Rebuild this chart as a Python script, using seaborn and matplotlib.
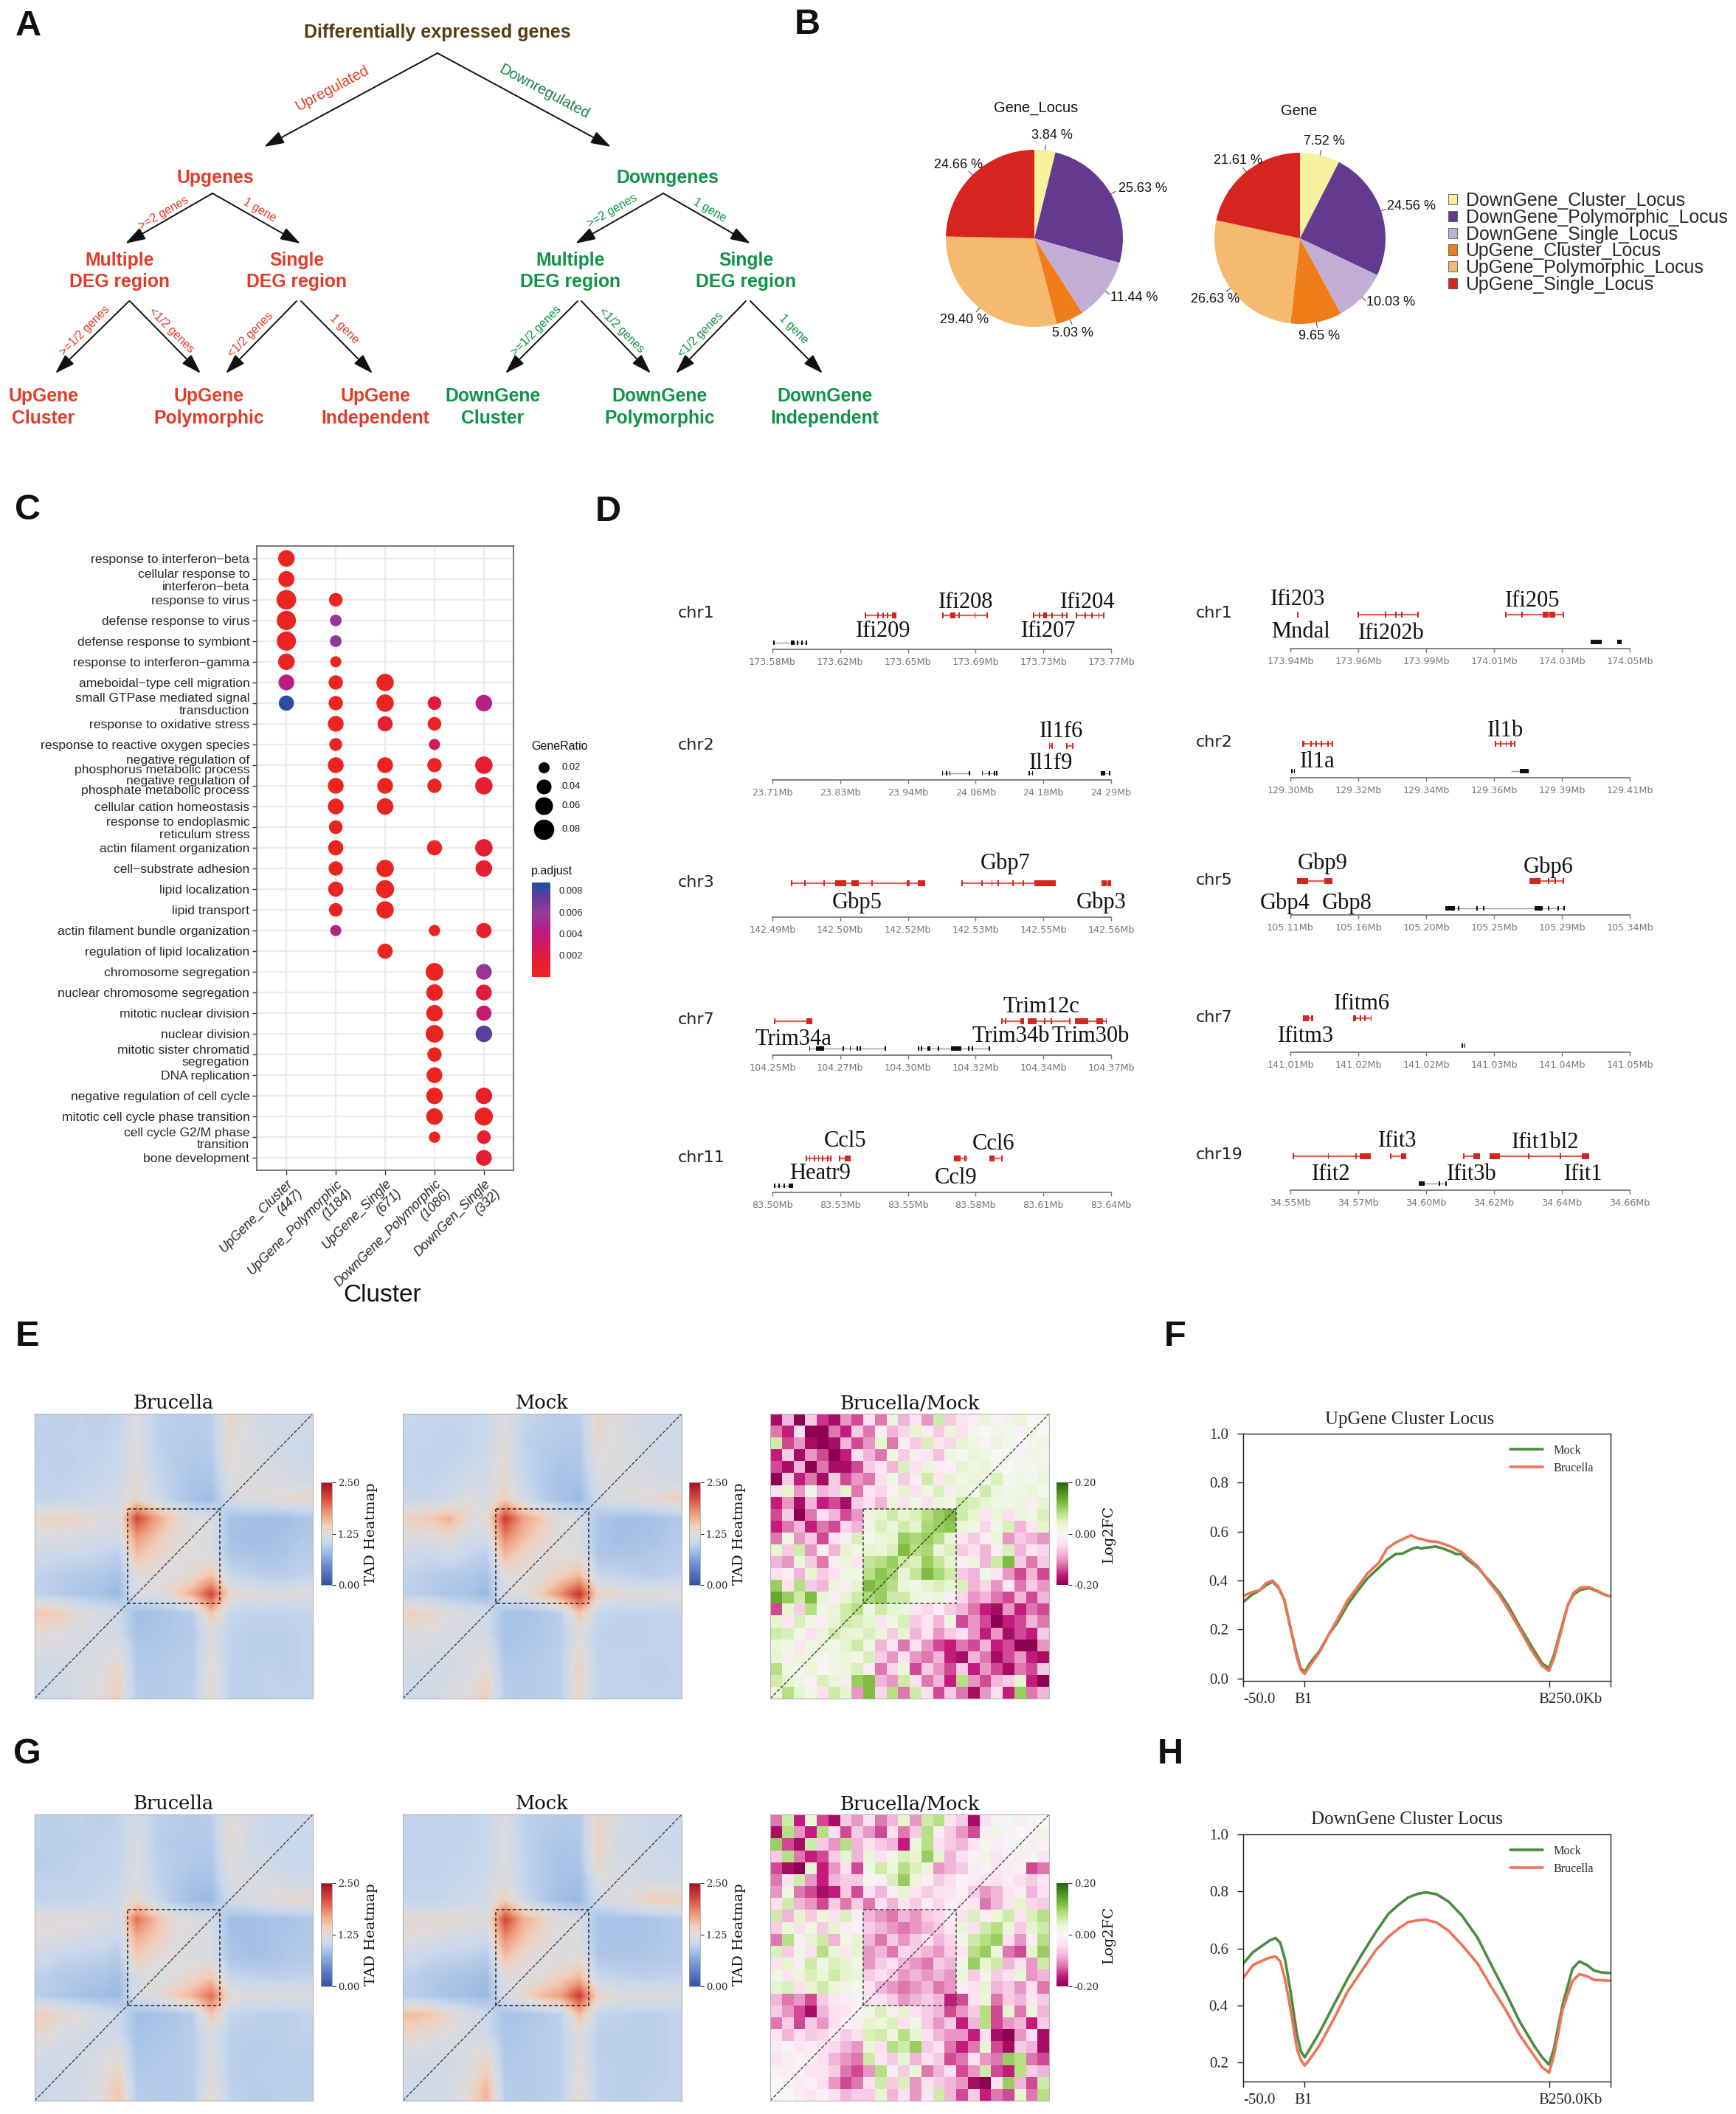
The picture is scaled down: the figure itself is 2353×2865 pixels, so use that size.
import numpy as np
import pandas as pd
import matplotlib
matplotlib.use("Agg")
import matplotlib.pyplot as plt
import seaborn as sns
from matplotlib.colors import LinearSegmentedColormap, Normalize
from matplotlib.cm import ScalarMappable
from matplotlib.transforms import ScaledTranslation

sns.set_style("ticks")
plt.rcParams["font.family"] = ["Liberation Sans", "DejaVu Sans"]
SANS, TIMES, DSERIF, DSANS = "Liberation Sans", "Liberation Serif", "DejaVu Serif", "DejaVu Sans"

W, H = 2353, 2865
fig = plt.figure(figsize=(W / 100, H / 100), dpi=100, facecolor="white")


def box(x0, y0, x1, y1, **kw):
    return fig.add_axes([x0 / W, 1 - y1 / H, (x1 - x0) / W, (y1 - y0) / H], **kw)


# ---------------------------------------------------------------- panel B data
pie_names = ["DownGene_Cluster_Locus", "DownGene_Polymorphic_Locus", "DownGene_Single_Locus",
             "UpGene_Cluster_Locus", "UpGene_Polymorphic_Locus", "UpGene_Single_Locus"]
pie_colors = ["#f6f19c", "#633a8f", "#c2aed4", "#ef7d1a", "#f5b96f", "#d6241f"]
pie_locus = [3.84, 25.63, 11.44, 5.03, 29.40, 24.66]
pie_gene = [7.52, 24.56, 10.03, 9.65, 26.63, 21.61]

# ---------------------------------------------------------------- panel C data
go_terms = ["response to interferon\u2212beta", "cellular response to\ninterferon\u2212beta", "response to virus",
            "defense response to virus", "defense response to symbiont", "response to interferon\u2212gamma",
            "ameboidal\u2212type cell migration", "small GTPase mediated signal\ntransduction",
            "response to oxidative stress", "response to reactive oxygen species",
            "negative regulation of\nphosphorus metabolic process", "negative regulation of\nphosphate metabolic process",
            "cellular cation homeostasis", "response to endoplasmic\nreticulum stress", "actin filament organization",
            "cell\u2212substrate adhesion", "lipid localization", "lipid transport", "actin filament bundle organization",
            "regulation of lipid localization", "chromosome segregation", "nuclear chromosome segregation",
            "mitotic nuclear division", "nuclear division", "mitotic sister chromatid\nsegregation", "DNA replication",
            "negative regulation of cell cycle", "mitotic cell cycle phase transition", "cell cycle G2/M phase\ntransition",
            "bone development"]
go_clusters = ["UpGene_Cluster\n(447)", "UpGene_Polymorphic\n(1184)", "UpGene_Single\n(671)",
               "DownGene_Polymorphic\n(1086)", "DownGen_Single\n(332)"]
n = np.nan
go_ratio = [[.051, n, n, n, n], [.048, n, n, n, n], [.074, .033, n, n, n], [.071, .023, n, n, n], [.071, .023, n, n, n],
            [.051, .018, n, n, n], [.046, .037, .057, n, n], [.042, .037, .057, .033, .051], [n, .046, .042, .033, n],
            [n, .029, n, .018, n], [n, .046, .046, .037, .057], [n, .046, .046, .037, .057], [n, .046, .051, n, n],
            [n, .033, n, n, n], [n, .042, n, .042, .057], [n, .037, .057, n, .051], [n, .042, .062, n, n],
            [n, .033, .057, n, n], [n, .009, n, .021, .042], [n, n, .042, n, n], [n, n, n, .059, .046],
            [n, n, n, .051, .046], [n, n, n, .051, .042], [n, n, n, .059, .051], [n, n, n, .037, n], [n, n, n, .046, n],
            [n, n, n, .051, .051], [n, n, n, .051, .062], [n, n, n, .021, .033], [n, n, n, n, .046]]
r = .0002
go_padj = [[r, n, n, n, n], [r, n, n, n, n], [r, r, n, n, n], [r, .0058, n, n, n], [r, .0062, n, n, n],
           [r, r, n, n, n], [.0042, r, r, n, n], [.0085, r, r, .0018, .0045], [n, r, .0010, .0006, n],
           [n, r, n, .0028, n], [n, r, r, r, .0012], [n, r, r, r, .0012], [n, r, r, n, n],
           [n, r, n, n, n], [n, r, n, r, .0012], [n, r, r, n, .0010], [n, r, r, n, n],
           [n, .0008, r, n, n], [n, .0045, n, r, .0009], [n, n, r, n, n], [n, n, n, r, .0058],
           [n, n, n, r, .0018], [n, n, n, r, .0036], [n, n, n, r, .0075], [n, n, n, r, n], [n, n, n, r, n],
           [n, n, n, r, .0008], [n, n, n, r, r], [n, n, n, r, .0010], [n, n, n, n, .0012]]
size_keys = [0.02, 0.04, 0.06, 0.08]
padj_ticks = [0.002, 0.004, 0.006, 0.008]

# ---------------------------------------------------------------- panel D data (x in tick intervals, 0..5)
# genes: (start, end, exons); an exon is a position or a (start, end) pair
track_ticks = [
    ["173.58", "173.62", "173.65", "173.69", "173.73", "173.77"],
    ["173.94", "173.96", "173.99", "174.01", "174.03", "174.05"],
    ["23.71", "23.83", "23.94", "24.06", "24.18", "24.29"],
    ["129.30", "129.32", "129.34", "129.36", "129.39", "129.41"],
    ["142.49", "142.50", "142.52", "142.53", "142.55", "142.56"],
    ["105.11", "105.16", "105.20", "105.25", "105.29", "105.34"],
    ["104.25", "104.27", "104.30", "104.32", "104.34", "104.37"],
    ["141.01", "141.02", "141.02", "141.03", "141.04", "141.05"],
    ["83.50", "83.53", "83.55", "83.58", "83.61", "83.64"],
    ["34.55", "34.57", "34.60", "34.62", "34.64", "34.66"]]
track_chr = ["chr1", "chr1", "chr2", "chr2", "chr3", "chr5", "chr7", "chr7", "chr11", "chr19"]
track_red = [
    [(1.37, 1.83, [1.37, 1.56, 1.63, 1.70, (1.76, 1.83)]), (2.52, 3.18, [2.52, (2.62, 2.70), 2.76, 2.99, 3.17]),
     (3.86, 4.35, [3.86, 3.94, (4.0, 4.05), 4.13, 4.28, 4.35]), (4.49, 4.89, [4.49, 4.62, 4.72, 4.82, 4.89])],
    [(.10, .12, [.11]), (1.0, 1.89, [1.0, 1.40, 1.55, 1.64, 1.88]),
     (3.17, 4.03, [3.17, 3.41, (3.72, 3.80), (3.82, 3.90), 4.02])],
    [(4.09, 4.13, [4.09, 4.13]), (4.35, 4.43, [4.35, 4.43])],
    [(.17, .62, [(.17, .21), .30, .38, .46, .55, .62]), (3.02, 3.30, [3.02, 3.10, 3.18, 3.25, 3.30])],
    [(.28, 2.25, [.28, .48, .76, (.93, 1.09), (1.17, 1.27), 1.47, (1.98, 2.03), (2.15, 2.25)]),
     (2.80, 4.18, [2.80, 3.09, 3.24, 3.33, 3.55, 3.70, (3.87, 4.18)]), (4.86, 5.0, [(4.86, 4.93), (4.95, 5.0)])],
    [(.10, .62, [(.10, .26), (.50, .62)]), (3.52, 4.03, [(3.52, 3.68), 3.80, 3.90, 4.02])],
    [(.03, .59, [.03, (.50, .59)]), (3.39, 3.71, [3.39, 3.44, (3.66, 3.71)]),
     (3.77, 4.39, [(3.77, 3.90), 4.02, 4.12, 4.39]), (4.47, 4.93, [(4.47, 4.66), (4.78, 4.88), 4.93])],
    [(.19, .34, [(.19, .27), (.30, .34)]), (.92, 1.19, [(.92, .97), 1.03, 1.10, 1.19])],
    [(.50, .86, [.50, .55, .62, .68, .74, .82, .86]), (.99, 1.16, [.99, (1.07, 1.16)]),
     (2.68, 2.87, [(2.68, 2.78), 2.84, 2.87]), (3.20, 3.39, [(3.20, 3.28), 3.39])],
    [(.04, 1.18, [.04, .56, .97, (1.02, 1.18)]), (1.48, 1.71, [1.48, (1.63, 1.71)]), (2.55, 2.79, [2.55, (2.70, 2.79)]),
     (2.94, 4.40, [(2.94, 3.09), 3.51, 3.98, (4.29, 4.40)])]]
track_black = [
    [(0, .51, [.02, (.27, .33), .37, .44, .5])],
    [(4.42, 4.59, [(4.42, 4.59)]), (4.81, 4.88, [(4.81, 4.88)])],
    [(2.51, 2.92, [2.51, 2.57, 2.62, 2.91]), (3.10, 3.32, [3.10, 3.20, 3.28, 3.31]), (3.79, 3.84, [3.79, 3.84]),
     (4.85, 4.98, [(4.85, 4.91), 4.98])],
    [(.02, .06, [.02, .06]), (3.25, 3.51, [(3.38, 3.51)])],
    [],
    [(2.28, 4.03, [(2.28, 2.42), 2.48, 2.75, 2.85, (3.60, 3.72), 3.80, 3.95, 4.03])],
    [(.55, 1.67, [.55, (.64, .76), 1.05, 1.15, 1.25, 1.30, 1.67]),
     (2.16, 3.21, [2.16, 2.20, 2.30, 2.32, 2.45, (2.64, 2.79), 2.90, 2.95, 3.20])],
    [(2.53, 2.57, [2.53, 2.57])],
    [(.03, .31, [.03, .1, .17, (.24, .31)])],
    [(1.89, 2.29, [(1.89, 1.98), 2.2, 2.29])]]
track_names = [
    [("Ifi208", 2.86, 64), ("Ifi204", 4.65, 64), ("Ifi209", 1.63, 24), ("Ifi207", 4.08, 24)],
    [("Ifi203", .11, 67), ("Mndal", .15, 23), ("Ifi202b", 1.49, 21), ("Ifi205", 3.57, 64)],
    [("Il1f6", 4.26, 65), ("Il1f9", 4.11, 22)],
    [("Il1a", .40, 22), ("Il1b", 3.17, 63)],
    [("Gbp7", 3.44, 73), ("Gbp5", 1.25, 20), ("Gbp3", 4.86, 20)],
    [("Gbp9", .48, 70), ("Gbp6", 3.80, 65), ("Gbp4", -.08, 16), ("Gbp8", .83, 16)],
    [("Trim12c", 3.97, 65), ("Trim34a", .31, 22), ("Trim34b", 3.52, 25), ("Trim30b", 4.70, 25)],
    [("Ifitm6", 1.05, 65), ("Ifitm3", .23, 21)],
    [("Ccl5", 1.07, 69), ("Ccl6", 3.26, 66), ("Heatr9", .70, 25), ("Ccl9", 2.71, 19)],
    [("Ifit3", 1.58, 67), ("Ifit1bl2", 3.76, 65), ("Ifit2", .60, 22), ("Ifit3b", 2.67, 22), ("Ifit1", 4.32, 22)]]

# ---------------------------------------------------------------- panels E/G data
tad_e_brucella = [
    [1.00, .98, 1.00, .98, 1.02, 1.22, 1.00, .96, .95, .96, 1.35, 1.20, 1.12, 1.10, 1.12],
    [.98, 1.00, 1.00, 1.00, 1.05, 1.25, 1.00, .95, .92, .95, 1.30, 1.20, 1.15, 1.10, 1.08],
    [1.00, .98, 1.00, 1.02, 1.05, 1.25, 1.02, .95, .90, .92, 1.28, 1.22, 1.18, 1.12, 1.08],
    [1.00, 1.00, 1.02, 1.04, 1.08, 1.28, 1.05, .95, .88, .88, 1.22, 1.25, 1.20, 1.18, 1.12],
    [1.02, 1.02, 1.05, 1.08, 1.15, 1.35, 1.12, .95, .85, .80, 1.15, 1.20, 1.25, 1.30, 1.35],
    [1.35, 1.40, 1.32, 1.25, 1.20, 2.15, 1.72, 1.40, 1.25, 1.20, .85, .85, .82, .82, .88],
    [1.20, 1.20, 1.18, 1.15, 1.12, 1.75, 1.50, 1.30, 1.25, 1.20, .85, .82, .82, .85, .90],
    [1.08, 1.05, 1.05, 1.02, .95, 1.50, 1.35, 1.25, 1.25, 1.22, .90, .88, .85, .90, .95],
    [1.00, .95, .92, .90, .85, 1.25, 1.25, 1.25, 1.30, 1.50, 1.05, 1.00, .95, .95, 1.00],
    [.98, .92, .88, .85, .78, 1.20, 1.22, 1.35, 1.65, 2.15, 1.35, 1.25, 1.22, 1.22, 1.25],
    [1.48, 1.40, 1.28, 1.18, 1.10, .82, .85, .90, .95, 1.50, 1.05, 1.00, 1.00, 1.00, 1.02],
    [1.30, 1.25, 1.18, 1.15, 1.10, .85, .88, .90, .92, 1.20, 1.00, .98, .98, .98, 1.00],
    [1.18, 1.18, 1.15, 1.20, 1.25, .90, .90, .92, .95, 1.25, 1.00, .98, .98, .98, 1.00],
    [1.12, 1.12, 1.18, 1.22, 1.35, .92, .92, .95, .95, 1.30, 1.00, .98, 1.00, .98, 1.00],
    [1.10, 1.12, 1.18, 1.25, 1.40, .95, .92, .95, .98, 1.30, 1.00, .98, 1.00, 1.00, 1.00]]
tad_e_mock = [
    [1.05, 1.02, 1.02, 1.02, 1.08, 1.25, 1.02, .98, .95, .95, 1.35, 1.25, 1.15, 1.10, 1.10],
    [1.02, 1.02, 1.00, 1.02, 1.08, 1.28, 1.00, .95, .92, .92, 1.30, 1.22, 1.18, 1.12, 1.10],
    [1.02, 1.00, 1.02, 1.05, 1.10, 1.30, 1.02, .95, .88, .90, 1.25, 1.22, 1.18, 1.12, 1.10],
    [1.02, 1.02, 1.05, 1.10, 1.12, 1.30, 1.05, .92, .85, .85, 1.20, 1.22, 1.20, 1.18, 1.15],
    [1.05, 1.05, 1.12, 1.25, 1.18, 1.42, 1.12, .95, .85, .78, 1.12, 1.20, 1.25, 1.30, 1.40],
    [1.40, 1.48, 1.60, 1.30, 1.25, 2.20, 1.70, 1.45, 1.25, 1.20, .88, .85, .82, .85, .90],
    [1.25, 1.22, 1.30, 1.15, 1.12, 1.85, 1.55, 1.35, 1.25, 1.20, .88, .82, .85, .85, .92],
    [1.08, 1.05, 1.12, 1.02, .95, 1.55, 1.35, 1.25, 1.25, 1.25, .90, .88, .88, .92, .95],
    [1.00, .95, .92, .90, .85, 1.25, 1.25, 1.28, 1.40, 1.55, 1.05, 1.02, .98, .95, 1.00],
    [.98, .92, .88, .85, .78, 1.20, 1.25, 1.45, 1.80, 2.25, 1.40, 1.28, 1.25, 1.25, 1.28],
    [1.40, 1.35, 1.25, 1.18, 1.12, .85, .85, .90, .98, 1.50, 1.05, 1.00, 1.00, 1.00, 1.02],
    [1.25, 1.22, 1.18, 1.15, 1.10, .85, .88, .90, .95, 1.22, 1.00, .98, .98, 1.00, 1.00],
    [1.18, 1.15, 1.15, 1.20, 1.22, .88, .90, .92, .98, 1.30, 1.00, 1.00, 1.00, 1.00, 1.00],
    [1.12, 1.12, 1.15, 1.20, 1.28, .92, .92, .95, .98, 1.40, 1.02, 1.00, 1.00, .98, 1.00],
    [1.10, 1.12, 1.18, 1.25, 1.40, .95, .92, .95, .98, 1.35, 1.02, 1.00, 1.00, 1.00, 1.00]]
tad_g_brucella = [
    [.98, .98, 1.00, .98, 1.00, 1.15, .98, .95, .92, .95, 1.32, 1.15, 1.08, 1.05, 1.10],
    [.98, .98, .98, 1.00, 1.02, 1.20, .98, .92, .92, .92, 1.28, 1.12, 1.08, 1.05, 1.05],
    [.95, .98, 1.00, 1.00, 1.02, 1.20, 1.00, .95, .90, .90, 1.25, 1.15, 1.12, 1.05, 1.05],
    [1.00, 1.00, 1.00, 1.02, 1.05, 1.22, 1.02, .92, .85, .85, 1.20, 1.20, 1.18, 1.12, 1.10],
    [1.00, 1.02, 1.02, 1.05, 1.10, 1.32, 1.08, .92, .82, .78, 1.10, 1.18, 1.25, 1.32, 1.32],
    [1.30, 1.28, 1.28, 1.22, 1.15, 1.95, 1.55, 1.30, 1.22, 1.18, .82, .82, .85, .85, .90],
    [1.22, 1.20, 1.15, 1.12, 1.05, 1.62, 1.45, 1.25, 1.22, 1.18, .85, .82, .85, .88, .90],
    [1.08, 1.02, 1.00, .98, .92, 1.45, 1.28, 1.22, 1.22, 1.22, .88, .85, .85, .90, .92],
    [.98, .92, .90, .88, .82, 1.20, 1.22, 1.25, 1.32, 1.45, 1.05, 1.00, .98, .98, 1.00],
    [.95, .90, .85, .82, .78, 1.18, 1.22, 1.42, 1.60, 1.95, 1.30, 1.22, 1.20, 1.20, 1.22],
    [1.42, 1.32, 1.25, 1.15, 1.08, .82, .85, .88, .95, 1.50, 1.02, 1.00, .98, .98, 1.00],
    [1.32, 1.20, 1.15, 1.10, 1.08, .85, .88, .90, .95, 1.18, .98, .96, .96, .98, 1.00],
    [1.15, 1.12, 1.12, 1.18, 1.25, .88, .90, .92, .95, 1.22, .98, .95, .95, .98, .98],
    [1.10, 1.10, 1.15, 1.20, 1.35, .90, .92, .92, .95, 1.22, .98, .95, .98, .95, .98],
    [1.08, 1.10, 1.15, 1.25, 1.50, .95, .92, .92, .95, 1.30, 1.00, .95, .95, .98, .98]]
tad_g_mock = [
    [1.00, 1.00, 1.02, 1.00, 1.05, 1.20, 1.00, .95, .92, .92, 1.38, 1.18, 1.10, 1.08, 1.08],
    [1.00, 1.00, 1.00, 1.02, 1.05, 1.22, 1.00, .92, .88, .90, 1.38, 1.15, 1.12, 1.08, 1.08],
    [1.00, 1.00, 1.02, 1.02, 1.08, 1.22, 1.02, .92, .85, .88, 1.35, 1.18, 1.15, 1.10, 1.08],
    [1.02, 1.02, 1.02, 1.05, 1.10, 1.25, 1.02, .92, .85, .82, 1.22, 1.20, 1.18, 1.15, 1.15],
    [1.02, 1.02, 1.05, 1.08, 1.15, 1.42, 1.08, .92, .82, .78, 1.12, 1.20, 1.32, 1.42, 1.42],
    [1.32, 1.30, 1.32, 1.28, 1.18, 2.15, 1.62, 1.42, 1.25, 1.20, .85, .85, .85, .88, .92],
    [1.25, 1.20, 1.15, 1.12, 1.08, 1.80, 1.50, 1.30, 1.22, 1.20, .88, .85, .85, .88, .92],
    [1.08, 1.02, 1.00, .98, .92, 1.52, 1.30, 1.22, 1.22, 1.28, .90, .88, .88, .90, .92],
    [.98, .92, .88, .85, .82, 1.25, 1.22, 1.28, 1.40, 1.55, 1.05, 1.00, .98, .98, 1.00],
    [.95, .90, .85, .82, .78, 1.18, 1.30, 1.55, 1.70, 2.20, 1.38, 1.25, 1.22, 1.20, 1.22],
    [1.55, 1.48, 1.32, 1.18, 1.08, .85, .88, .92, 1.00, 1.55, 1.02, 1.00, .98, .98, 1.00],
    [1.35, 1.30, 1.22, 1.15, 1.08, .88, .90, .95, .98, 1.22, .98, .98, .98, .98, 1.00],
    [1.18, 1.15, 1.15, 1.22, 1.30, .90, .92, .95, .98, 1.25, .98, .98, .98, .98, 1.00],
    [1.12, 1.10, 1.15, 1.22, 1.45, .92, .92, .95, .98, 1.28, 1.00, .98, .98, .98, 1.00],
    [1.10, 1.12, 1.15, 1.28, 1.60, .95, .92, .95, .98, 1.30, 1.00, .98, .98, 1.00, 1.00]]
fc_e = [
    [-18, -8, -20, -6, -15, -18, -10, -14, -4, -12, 3, -8, -3, -10, 6, -6, -3, -2, 3, -1, 2, 3, 0, 1],
    [-12, -16, -4, -20, -20, -12, -16, -6, -12, -2, -8, -5, 4, -2, -6, 3, -4, 1, 0, 2, 1, -1, 2, 0],
    [6, -14, -10, -18, -20, -18, -8, -14, -10, 4, -12, -2, -6, 5, -3, -5, 4, 2, -1, 3, 1, 0, 1, 2],
    [-16, -6, -18, -10, -14, -20, -16, -4, -8, -12, 2, -6, -2, -3, -7, 2, 1, 3, 2, 0, 1, -1, 2, 1],
    [-14, -18, -8, -20, -12, -18, -18, -14, -6, -3, -8, 5, -4, 3, -2, -1, 4, 2, 3, 1, 0, 1, 1, 2],
    [-20, -6, -16, -12, -18, -6, -14, -10, -12, -4, 2, -6, -2, 6, -3, 4, 2, 3, 2, 5, 1, 2, 1, 3],
    [-4, 4, -10, 2, -8, -6, 4, -12, -3, -5, -1, 4, -4, 2, 5, -2, 3, 1, 6, 3, 2, 2, 3, 1],
    [-16, -10, -18, -8, -16, -14, -18, -6, -4, -8, 3, -3, 2, -4, 3, 2, 6, 5, 4, 2, 2, 3, -2, 4],
    [-14, -6, -20, -12, -4, -8, -14, -10, 3, 4, 6, 4, 5, 8, 10, 12, 6, 4, -3, 3, -4, 3, 2, 5],
    [-16, -12, -8, -16, -12, -14, -5, -8, 2, 5, 3, 6, 4, 9, 10, 11, 3, 2, -5, 2, 5, -8, -3, 4],
    [-12, 2, -10, -6, -14, -4, -2, 5, 1, 3, 4, 10, 9, 10, 8, 3, -3, -6, -2, 3, -10, -6, -8, -10],
    [4, -6, 6, -10, -2, -8, 4, 2, 4, 3, 5, 12, 8, 9, 3, 5, -6, -4, -8, -2, 5, -8, -3, -5],
    [-8, -10, 3, -6, -12, -2, 3, -3, 7, 8, 10, 6, 5, 10, 7, 4, -2, 3, -8, 6, 12, -6, -12, -6],
    [-4, -2, -8, 4, -6, -4, 2, 2, 8, 11, 9, 4, 7, 12, 9, 6, -6, -8, 2, -3, -10, -14, -8, -14],
    [10, -4, 8, -6, -8, 3, -2, 4, 12, 10, 8, 3, 2, 4, 5, 4, 5, -8, -5, -10, -3, -12, -6, -10],
    [14, 10, 6, 12, 3, -2, 4, 6, 9, 10, 6, 6, 3, 2, 3, -2, -5, -10, -8, -12, -14, -8, -14, -8],
    [-14, 4, -6, 8, 2, 3, 6, 8, 3, 6, 4, 3, -3, -5, -2, -6, -8, -12, -16, -18, -10, -16, -12, -14],
    [4, -3, 5, 2, -2, 4, 6, 5, 4, -3, 2, 5, -6, -3, -8, 2, -14, -10, -14, -20, -16, -14, -8, -12],
    [6, 5, 2, -4, 3, 6, 4, 3, 5, 3, -6, 4, -8, -3, -10, -6, -4, -10, -16, -10, -18, -14, -16, -6],
    [3, 2, -3, 2, 3, 1, 4, 6, 2, -8, -3, -12, -4, -10, -14, -16, -12, -14, -8, -16, -14, -20, -20, -10],
    [4, -2, 3, 2, 1, 2, 3, 2, 5, -6, -10, -4, -10, -12, -8, -16, -18, -8, -12, -18, -14, -10, -16, -18],
    [8, 2, 1, 3, -1, 2, 3, 5, -2, -12, -5, 3, -14, -6, -10, -14, -6, -16, -10, -14, -18, -12, -14, -6],
    [6, 4, 2, -1, 5, 3, -2, 10, 12, -8, -10, 6, -4, -12, -8, -16, 8, -10, -14, -8, -6, 4, -16, -20],
    [3, 8, 4, 2, -4, 6, 4, -10, 12, -5, 8, -12, 6, -4, -14, -6, -12, -18, -10, -4, -16, 10, -12, -8]]
fc_g = [
    [-12, 6, -16, 3, -14, -18, -6, -10, -4, -12, -8, 4, -10, 6, 8, -3, -6, -18, -4, -1, 1, -2, 1, 0],
    [-18, 8, -10, -16, 8, -4, -14, -6, -10, -14, -4, -12, -6, 8, -2, -6, -10, -14, -2, 2, -1, 0, -1, 2],
    [10, -14, -18, 6, -6, -10, 8, -8, -4, -6, -8, -16, 3, 8, -4, -6, -8, -3, 1, -2, -1, 1, -2, -1],
    [-6, 8, -12, -16, -14, -6, 4, -8, 3, -4, 2, 5, 4, 10, 4, -8, -4, -1, 2, -3, -1, -2, 1, -3],
    [-14, -18, -20, 4, -16, -10, -4, -14, 2, 6, 3, 8, 5, 3, -10, -8, -6, -2, -1, -3, -2, -1, -14, -12],
    [-12, -4, 6, -10, -16, -8, -6, -6, 1, -2, 5, 10, 3, -2, -6, -4, -1, -2, -3, -4, -2, -4, -6, -3],
    [-10, 2, -12, -14, -18, -16, -6, -14, -4, -8, -2, 4, -3, -6, -4, -3, -1, -6, -10, -8, -3, -2, -8, -4],
    [-4, 6, -8, -10, -14, -6, -12, -6, -12, -4, -8, -3, -6, -2, -5, -2, -2, -3, -12, -8, -3, 4, -5, -6],
    [6, -8, 4, -6, 3, -4, 5, -2, -8, -10, -12, -8, -10, -6, -5, -2, -4, 5, -2, 3, 6, -3, 5, 8],
    [-6, 3, -4, 2, -6, 4, -2, -1, -6, -8, -10, -12, -10, -8, -6, -3, 3, -4, 6, 8, 3, -6, 4, 6],
    [-12, 8, -2, 4, 6, -8, 2, 4, -8, -12, -6, -10, -6, -4, -8, -5, 2, 6, 8, 10, -4, -10, -2, 8],
    [5, -6, 2, -4, 8, 3, -3, 4, -10, -8, -12, -5, -6, -8, -10, -6, -3, 8, 10, 3, -12, -14, 4, 10],
    [-4, 4, -2, 6, 2, 5, 4, 2, -10, -6, -4, -8, -10, -12, -6, -8, 2, 10, 4, 6, -8, -4, -10, 6],
    [2, -3, 3, 5, 3, 6, 4, 3, -6, -4, -6, -10, -8, -10, -8, -10, 3, -6, 2, -6, -4, 3, -10, -8],
    [4, 5, -4, 4, 6, 3, 2, 1, -4, -8, -10, -12, -10, -8, -12, -10, -2, -4, 4, -8, -6, -10, -4, -12],
    [-8, -12, -10, -14, -6, -3, -2, -1, -3, -4, -6, -10, -8, -6, -8, -16, -14, -4, 3, -12, -6, -8, -3, -6],
    [-6, -10, -14, -18, -8, -4, -3, -1, 2, 5, -2, 4, -4, -6, -8, -14, -10, -6, 8, -14, 4, -12, 3, -8],
    [-12, -6, -14, -6, -10, -4, -1, -2, 4, 3, 5, -4, 2, -6, -10, -6, -16, -8, 8, -14, -10, -8, -16, -6],
    [-3, -8, -4, -6, -5, -2, -6, -4, 5, 6, 3, 8, 4, -4, -8, -10, -10, -16, -4, -18, -20, -10, -4, -18],
    [-2, -1, -3, -2, -4, -5, -8, -10, 3, -4, 8, 6, 10, -6, -4, -12, -16, -12, 4, -14, -18, -6, -8, -18],
    [-3, -2, -1, -2, -4, -8, -10, -12, 6, -3, -6, 4, -8, -4, -6, -14, -12, -4, -10, -12, 10, 8, -12, -14],
    [-1, -2, -1, -3, -3, -6, -12, -14, -10, 8, -2, -6, 3, -12, -8, -4, -14, -10, 6, -14, -16, 8, -6, -8],
    [0, -1, -2, -1, -4, -10, -14, -12, -4, 6, -6, 5, -10, -4, -6, -8, -10, -18, -20, -4, 10, -8, -14, 6],
    [-1, 0, -2, -3, -1, -4, -8, -6, -6, 4, -8, -4, -10, -3, 6, -8, -14, -6, -16, -12, -14, 4, -12, 8]]

# ---------------------------------------------------------------- panels F/H data (x in kb from B1)
f_kb = [-63, -54, -46, -40, -33, -27, -21, -14, -8, -4, 0, 6, 15, 25, 34, 44, 54, 64, 76, 84, 93, 100, 109, 115, 119,
        128, 134, 142, 151, 155, 160, 165, 177, 188, 199, 209, 220, 232, 243, 250, 255, 262, 269, 275, 282, 291, 300,
        307, 313]
f_mock = [.312, .342, .36, .38, .395, .372, .322, .197, .096, .041, .026, .066, .111, .182, .232, .302, .357, .408,
          .453, .483, .508, .51, .528, .536, .531, .536, .539, .53, .516, .508, .508, .49, .453, .403, .352, .292, .212,
          .132, .061, .041, .096, .197, .297, .342, .362, .369, .355, .342, .335]
f_brucella = [.337, .352, .36, .388, .40, .375, .322, .197, .086, .034, .019, .056, .106, .182, .245, .32, .373, .428,
              .473, .53, .555, .568, .585, .573, .57, .56, .559, .55, .536, .527, .518, .50, .458, .398, .342, .277,
              .202, .116, .051, .031, .081, .187, .297, .349, .371, .373, .357, .342, .335]
h_kb = [-63, -53, -43, -36, -30, -25, -20, -14, -8, -4, 0, 6, 15, 30, 44, 58, 73, 86, 96, 106, 116, 124, 135, 147, 161,
        177, 191, 206, 220, 235, 243, 250, 255, 264, 274, 281, 289, 296, 304, 313]
h_mock = [.547, .587, .611, .628, .637, .62, .559, .439, .30, .24, .219, .253, .305, .404, .495, .577, .659, .723, .753,
          .779, .792, .797, .79, .765, .715, .637, .542, .443, .344, .258, .219, .193, .249, .404, .529, .555, .542,
          .523, .516, .514]
h_brucella = [.497, .542, .558, .568, .572, .555, .49, .378, .249, .21, .19, .216, .26, .355, .45, .52, .595, .642, .67,
              .693, .699, .701, .691, .663, .612, .547, .465, .383, .297, .223, .184, .165, .223, .387, .486, .51, .503,
              .49, .489, .487]
kb_ticks = [-63, 0, 250, 313]
kb_labels = ["-50.0", "B1", "B250.0Kb", ""]

RED, GREEN = "#e33b28", "#0f9447"

# ======================================================= panel B
for values, (cx, cy, rad) in [(pie_locus, (1402, 323, 120)), (pie_gene, (1762, 323, 116))]:
    ax = box(cx - rad, cy - rad, cx + rad, cy + rad)
    wedges, _ = ax.pie(values, colors=pie_colors, startangle=90, counterclock=False, wedgeprops={"linewidth": 0})
    ax.set_xlim(-1, 1)
    ax.set_ylim(-1, 1)
    for w in wedges:
        a = np.deg2rad((w.theta1 + w.theta2) / 2)
        ax.plot([np.cos(a), 1.06 * np.cos(a)], [np.sin(a), 1.06 * np.sin(a)], color="#333333", lw=0.7, clip_on=False)
fig.legend(wedges, pie_names, loc="upper left", bbox_to_anchor=(1963 / W, 1 - 260 / H), frameon=False, fontsize=17.9,
           labelspacing=-0.05, handlelength=0.5, handleheight=0.5, handletextpad=0.45, borderpad=0, borderaxespad=0)
for leg in fig.legends:
    for h in leg.get_patches():
        h.set_edgecolor("#555555")
        h.set_linewidth(0.6)

# ======================================================= panel C
ratio_arr, padj_arr = np.array(go_ratio), np.array(go_padj)
rows, cols = np.where(~np.isnan(ratio_arr))
dots = pd.DataFrame({"row": rows, "col": cols, "ratio": ratio_arr[rows, cols], "padj": padj_arr[rows, cols]})
padj_cmap = LinearSegmentedColormap.from_list("padj", [(0, "#ea2420"), (.0002 / .00875, "#ea2420"),
                                                       (.002 / .00875, "#e11a40"), (.004 / .00875, "#c0187e"),
                                                       (.006 / .00875, "#943a98"), (.0072 / .00875, "#6a3a9c"),
                                                       (1, "#1f4fa3")])
padj_norm = Normalize(0, 0.00875)
DOT_MIN, DOT_MAX = 117, 392
axc = box(348, 740, 696, 1586)
axc.grid(True, color="#ebebeb", lw=1.6)
axc.set_axisbelow(True)
sns.scatterplot(data=dots, x="col", y="row", size="ratio", sizes=(DOT_MIN, DOT_MAX), size_norm=(0.02, 0.08), hue="padj",
                hue_norm=padj_norm, palette=padj_cmap, linewidth=0, legend=False, ax=axc, zorder=3)
axc.set_xlim(-0.6, 4.6)
axc.set_ylim(29.6, -0.6)
axc.set_yticks(range(len(go_terms)), go_terms, fontsize=12.6, linespacing=1.1)
for lab in axc.get_yticklabels():
    if lab.get_text().startswith("negative regulation of\n"):
        lab.set_linespacing(0.82)
axc.set_xticks(range(5), go_clusters, fontsize=12.8, rotation=45, ha="right", rotation_mode="anchor", style="italic",
               linespacing=1.15)
axc.tick_params(axis="both", length=4, width=1, color="#333333", pad=3)
axc.set_xlabel("")
axc.set_ylabel("")
for s in axc.spines.values():
    s.set_color("#555555")
    s.set_linewidth(1.1)

cax = box(721, 1196, 746, 1324)
cb = fig.colorbar(ScalarMappable(padj_norm, padj_cmap), cax=cax)
cb.outline.set_visible(False)
cb.set_ticks(padj_ticks, labels=["0.002", "0.004", "0.006", "0.008"], fontsize=9.3)
cax.tick_params(length=5, color="white", direction="in", pad=8)

# ======================================================= panel D
track_pos = [(1047, 1506, 880), (1749, 2209, 879), (1047, 1506, 1057), (1749, 2209, 1054), (1047, 1506, 1243),
             (1749, 2209, 1240), (1047, 1506, 1430), (1749, 2209, 1426), (1047, 1506, 1616), (1749, 2209, 1613)]
chr_pos = [(919, 831), (1621, 831), (919, 1010), (1621, 1006), (919, 1196), (1621, 1193), (919, 1382), (1621, 1379),
           (919, 1569), (1621, 1565)]


def draw_genes(ax, genes, y, line_c, exon_c, line_w, half):
    for g0, g1, exons in genes:
        ax.hlines(y, g0, g1, color=line_c, lw=line_w, zorder=2)
        for e in exons:
            a, b = e if isinstance(e, tuple) else (e - 0.01, e + 0.01)
            ax.broken_barh([(a, b - a)], (y - half, 2 * half), facecolor=exon_c, edgecolor="none", zorder=3)


for i, (x0, x1, ya) in enumerate(track_pos):
    ax = box(x0, ya - 60, x1, ya)
    ax.patch.set_alpha(0)
    ax.set_xlim(0, 5)
    ax.set_ylim(0, 60)
    draw_genes(ax, track_red[i], 46, "#e2604a", "#d6241f", 1.6, 4)
    draw_genes(ax, track_black[i], 9, "#999999", "#111111", 1.0, 3.2)
    for name, gx, gy in track_names[i]:
        ax.text(gx, gy, name, family=TIMES, fontsize=22, ha="center", va="center", color="#111111", clip_on=False)
    sns.despine(ax=ax, left=True, top=True, right=True)
    ax.spines["bottom"].set_color("#777777")
    ax.spines["bottom"].set_linewidth(1.3)
    ax.set_yticks([])
    ax.set_xticks(range(6), [t + "Mb" for t in track_ticks[i]], family=DSANS, fontsize=9.2, color="#777777")
    ax.tick_params(axis="x", length=3.6, width=1, color="#777777", pad=4)

# ======================================================= panels E, G
tad_cmap = LinearSegmentedColormap.from_list("tad", [(0, "#3a4fa0"), (.2, "#6f8fd0"), (.34, "#a9c3e6"), (.42, "#c9d8ec"),
                                                     (.5, "#dedcdb"), (.58, "#f2cdb8"), (.7, "#ee9a7a"),
                                                     (.85, "#d5493a"), (1, "#a50f25")])
for row, (grids, fc, y0, y1, cy0, cy1) in enumerate([((tad_e_brucella, tad_e_mock), fc_e, 1916, 2302, 2009, 2148),
                                                     ((tad_g_brucella, tad_g_mock), fc_g, 2459, 2847, 2552, 2692)]):
    for name, grid, (x0, x1), (c0, c1), lab_x in zip(["Brucella", "Mock"], grids, [(47, 424), (546, 924)],
                                                     [(435, 450), (934, 949)], [503, 1002]):
        ax = box(x0, y0, x1, y1)
        im = ax.imshow(np.array(grid), cmap=tad_cmap, vmin=0, vmax=2.5, aspect="auto", interpolation="bilinear",
                       extent=(0, 15, 15, 0))
        ax.plot([5, 10, 10, 5, 5], [5, 5, 10, 10, 5], color="#222222", ls="--", lw=1.1, dashes=(3, 2))
        ax.plot([0, 15], [15, 0], color="#333333", ls="--", lw=0.9)
        ax.set_xticks([])
        ax.set_yticks([])
        ax.set_xlim(0, 15)
        ax.set_ylim(15, 0)
        ax.set_title(name, family=DSERIF, fontsize=18.5, pad=5, color="#111111")
        for s in ax.spines.values():
            s.set_color("#b5b5b5")
            s.set_linewidth(0.8)
        ca = box(c0, cy0, c1, cy1)
        cb = fig.colorbar(im, cax=ca)
        cb.set_ticks([0, 1.25, 2.5], labels=["0.00", "1.25", "2.50"], family=DSERIF, fontsize=9.5)
        cb.outline.set_edgecolor("#999999")
        cb.outline.set_linewidth(0.5)
        ca.tick_params(length=3.5, width=0.8, pad=2)
        fig.text(lab_x / W, 1 - (cy0 + cy1) / 2 / H, "TAD Heatmap", family=DSERIF, fontsize=14, rotation=90,
                 ha="center", va="center", color="#111111")
    ax = box(1044, y0, 1422, y1)
    ca = box(1432, cy0, 1448, cy1)
    sns.heatmap(np.array(fc) / 100, cmap="PiYG", vmin=-0.2, vmax=0.2, ax=ax, cbar_ax=ca, xticklabels=False,
                yticklabels=False, cbar_kws={"ticks": [-0.2, 0, 0.2]})
    ax.plot([8, 16, 16, 8, 8], [8, 8, 16, 16, 8], color="#444444", ls="--", lw=1.1, dashes=(3, 2))
    ax.plot([0, 24], [24, 0], color="#333333", ls="--", lw=0.9)
    ax.set_title("Brucella/Mock", family=DSERIF, fontsize=18.5, pad=5, color="#111111")
    for s in ax.spines.values():
        s.set_visible(True)
        s.set_color("#b5b5b5")
        s.set_linewidth(0.8)
    ca.set_yticks([-0.2, 0, 0.2], ["-0.20", "0.00", "0.20"], family=DSERIF, fontsize=9.5)
    ca.tick_params(length=3.5, width=0.8, pad=2)
    fig.text(1503 / W, 1 - (cy0 + cy1) / 2 / H, "Log2FC", family=DSERIF, fontsize=14, rotation=90, ha="center",
             va="center", color="#111111")

# ======================================================= panels F, H
for kb, mock, bru, (y0, y1), ylim, yt, title, tx, ty, leg_y in [
    (f_kb, f_mock, f_brucella, (1943, 2278), (-0.01, 1.0), [0, .2, .4, .6, .8, 1.0], "UpGene Cluster Locus", 1911, 1924, 1958),
    (h_kb, h_mock, h_brucella, (2486, 2821), (0.134, 1.0), [.2, .4, .6, .8, 1.0], "DownGene Cluster Locus", 1907, 2466, 2501)]:
    ax = box(1685, y0, 2183, y1)
    df = pd.DataFrame({"kb": kb * 2, "value": mock + bru, "sample": ["Mock"] * len(kb) + ["Brucella"] * len(kb)})
    sns.lineplot(data=df, x="kb", y="value", hue="sample", palette={"Mock": "#4c8c3f", "Brucella": "#ee7457"}, lw=2.6,
                 ax=ax, errorbar=None)
    ax.set_xlim(-63, 313)
    ax.set_ylim(*ylim)
    ax.set_yticks(yt, [f"{v:.1f}" for v in yt], family=TIMES, fontsize=15)
    ax.set_xticks(kb_ticks, kb_labels, family=TIMES, fontsize=15)
    ax.set_xlabel("")
    ax.set_ylabel("")
    ax.tick_params(axis="y", length=5.5, width=1, color="#222222", pad=9)
    ax.tick_params(axis="x", length=5.5, width=1, color="#222222", pad=6)
    labs = ax.get_xticklabels()
    labs[0].set_ha("left")
    labs[2].set_transform(labs[2].get_transform() + ScaledTranslation(21 / 72, 0, fig.dpi_scale_trans))
    labs[1].set_transform(labs[1].get_transform() + ScaledTranslation(-1.5 / 72, 0, fig.dpi_scale_trans))
    for s in ax.spines.values():
        s.set_visible(True)
        s.set_color("#222222")
        s.set_linewidth(1)
    ax.legend(loc="upper left", bbox_to_anchor=(2047 / W, 1 - leg_y / H), bbox_transform=fig.transFigure, frameon=False,
              title=None, prop={"family": TIMES, "size": 11.6}, handlelength=2.7, handletextpad=0.9, labelspacing=0.5,
              borderpad=0, borderaxespad=0)
    fig.text(tx / W, 1 - ty / H, title, family=TIMES, fontsize=18, ha="center", va="center", color="#222222")

# ======================================================= overlay: panel A, labels
ov = fig.add_axes([0, 0, 1, 1], zorder=20)
ov.set_xlim(0, W)
ov.set_ylim(H, 0)
ov.axis("off")
ov.patch.set_alpha(0)


def T(x, y, s, **kw):
    kw.setdefault("ha", "center")
    kw.setdefault("va", "center")
    ov.text(x, y, s, **kw)


for s, x, y in [("A", 38, 35), ("B", 1094, 33), ("C", 37, 692), ("D", 824, 693), ("E", 37, 1812), ("F", 1593, 1812),
                ("G", 37, 2378), ("H", 1586, 2378)]:
    T(x, y, s, fontsize=35, fontweight="bold", color="#111111")

T(593, 44, "Differentially expressed genes", fontsize=18, fontweight="bold", color="#5a3a10")
arrows = [(593, 72, 358, 199), (593, 72, 828, 199), (288, 262, 170, 330), (288, 262, 407, 330), (899, 262, 780, 330),
          (899, 262, 1017, 330), (175, 408, 75, 506), (176, 408, 272, 506), (402, 408, 306, 506), (408, 408, 505, 506),
          (783, 408, 685, 506), (788, 408, 882, 506), (1011, 408, 916, 506), (1017, 408, 1115, 506)]
for x0, y0, x1, y1 in arrows:
    ov.annotate("", xy=(x1, y1), xytext=(x0, y0),
                arrowprops=dict(arrowstyle="-|>,head_length=0.75,head_width=0.24", lw=1.4, color="#111111",
                                shrinkA=0, shrinkB=0, mutation_scale=22))
edge_labels = [("Upregulated", 451, 120, 28, RED, 14.5), ("Downregulated", 738, 124, -28, "#1b7f45", 14.5),
               (">=2 genes", 222, 289, 30, RED, 11.5), ("1 gene", 352, 285, -30, RED, 11.5),
               (">=2 genes", 830, 286, 30, GREEN, 11.5), ("1 gene", 962, 285, -30, GREEN, 11.5),
               (">=1/2 genes", 115, 448, 45, RED, 11.5), ("<1/2 genes", 232, 448, -45, RED, 11.5),
               ("<1/2 genes", 340, 454, 45, RED, 11.5), ("1 gene", 467, 446, -45, RED, 11.5),
               (">=1/2 genes", 727, 448, 45, GREEN, 11.5), ("<1/2 genes", 842, 448, -45, GREEN, 11.5),
               ("<1/2 genes", 950, 454, 45, GREEN, 11.5), ("1 gene", 1076, 446, -45, GREEN, 11.5)]
for s, x, y, rot, c, fs in edge_labels:
    T(x, y, s, rotation=rot, color=c, fontsize=fs, rotation_mode="anchor")
node_labels = [("Upgenes", 292, 241, RED), ("Downgenes", 905, 241, GREEN),
               ("Multiple", 162, 353, RED), ("DEG region", 162, 382, RED), ("Single", 402, 353, RED),
               ("DEG region", 402, 382, RED), ("Multiple", 773, 353, GREEN), ("DEG region", 773, 382, GREEN),
               ("Single", 1011, 353, GREEN), ("DEG region", 1011, 382, GREEN),
               ("UpGene", 59, 537, RED), ("Cluster", 59, 567, RED), ("UpGene", 283, 537, RED),
               ("Polymorphic", 283, 567, RED), ("UpGene", 509, 537, RED), ("Independent", 509, 567, RED),
               ("DownGene", 668, 537, GREEN), ("Cluster", 668, 567, GREEN), ("DownGene", 894, 537, GREEN),
               ("Polymorphic", 894, 567, GREEN), ("DownGene", 1118, 537, GREEN), ("Independent", 1118, 567, GREEN)]
for s, x, y, c in node_labels:
    T(x, y, s, fontsize=17.8, fontweight="bold", color=c)

T(1404, 146, "Gene_Locus", fontsize=14.5, color="#111111")
T(1761, 151, "Gene", fontsize=14.5, color="#111111")
pie_text = [("3.84 %", 1426, 184), ("25.63 %", 1549, 255), ("11.44 %", 1537, 404), ("5.03 %", 1454, 451),
            ("29.40 %", 1307, 434), ("24.66 %", 1299, 223), ("7.52 %", 1795, 191), ("24.56 %", 1913, 280),
            ("10.03 %", 1885, 410), ("9.65 %", 1788, 456), ("26.63 %", 1647, 406), ("21.61 %", 1678, 217)]
for s, x, y in pie_text:
    T(x, y, s, fontsize=13, color="#111111")

T(518, 1755, "Cluster", fontsize=24, color="#111111")
T(720, 1012, "GeneRatio", fontsize=11.5, ha="left", color="#111111")
T(720, 1181, "p.adjust", fontsize=11.5, ha="left", color="#111111")
for key, y in zip(size_keys, [1040, 1066, 1092, 1124]):
    ov.scatter([737], [y], s=DOT_MIN + (key - 0.02) / 0.06 * (DOT_MAX - DOT_MIN), color="black", linewidth=0)
    T(761, y, f"{key:.2f}", fontsize=9.3, ha="left", color="#111111")
for s, (x, y) in zip(track_chr, chr_pos):
    T(x, y, s, family=DSANS, fontsize=16, ha="left", color="#222222")

fig.savefig("out.png", dpi=100, facecolor="white")
